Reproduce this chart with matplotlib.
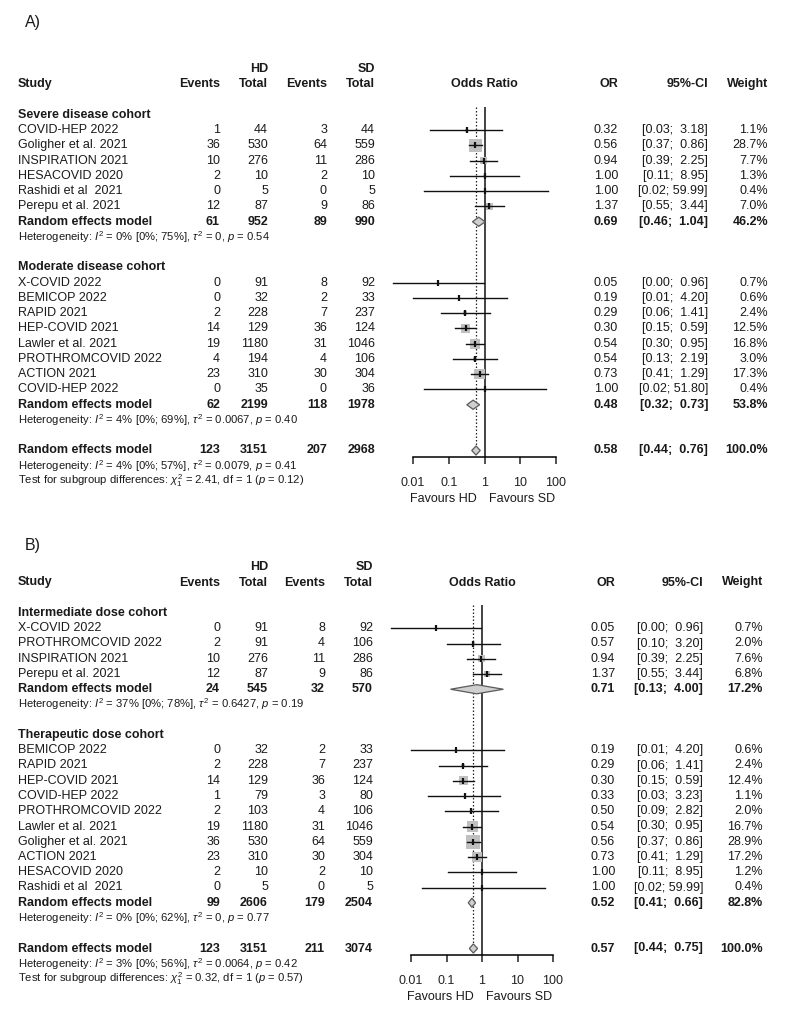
import numpy as np
import matplotlib.pyplot as plt
from matplotlib.patches import Polygon
from matplotlib.transforms import blended_transform_factory

plt.rcParams['font.family'] = ['Liberation Sans', 'DejaVu Sans']
plt.rcParams['mathtext.fontset'] = 'custom'
plt.rcParams['mathtext.rm'] = 'Liberation Sans'
plt.rcParams['mathtext.it'] = 'Liberation Sans:italic'
plt.rcParams['mathtext.bf'] = 'Liberation Sans:bold'

# study, events HD, total HD, events SD, total SD, OR, lower, upper, weight %
severe = [
    ("COVID-HEP 2022", 1, 44, 3, 44, 0.32, 0.03, 3.18, 1.1),
    ("Goligher et al. 2021", 36, 530, 64, 559, 0.56, 0.37, 0.86, 28.7),
    ("INSPIRATION 2021", 10, 276, 11, 286, 0.94, 0.39, 2.25, 7.7),
    ("HESACOVID 2020", 2, 10, 2, 10, 1.00, 0.11, 8.95, 1.3),
    ("Rashidi et al  2021", 0, 5, 0, 5, 1.00, 0.02, 59.99, 0.4),
    ("Perepu et al. 2021", 12, 87, 9, 86, 1.37, 0.55, 3.44, 7.0),
]
severe_pooled = (61, 952, 89, 990, 0.69, 0.46, 1.04, 46.2)
severe_het = ("0", "0", "75", "0", "0.54")

moderate = [
    ("X-COVID 2022", 0, 91, 8, 92, 0.05, 0.0027, 0.96, 0.7),
    ("BEMICOP 2022", 0, 32, 2, 33, 0.19, 0.01, 4.20, 0.6),
    ("RAPID 2021", 2, 228, 7, 237, 0.29, 0.06, 1.41, 2.4),
    ("HEP-COVID 2021", 14, 129, 36, 124, 0.30, 0.15, 0.59, 12.5),
    ("Lawler et al. 2021", 19, 1180, 31, 1046, 0.54, 0.30, 0.95, 16.8),
    ("PROTHROMCOVID 2022", 4, 194, 4, 106, 0.54, 0.13, 2.19, 3.0),
    ("ACTION 2021", 23, 310, 30, 304, 0.73, 0.41, 1.29, 17.3),
    ("COVID-HEP 2022", 0, 35, 0, 36, 1.00, 0.02, 51.80, 0.4),
]
moderate_pooled = (62, 2199, 118, 1978, 0.48, 0.32, 0.73, 53.8)
moderate_het = ("4", "0", "69", "0.0067", "0.40")

a_overall = (123, 3151, 207, 2968, 0.58, 0.44, 0.76, 100.0)
a_overall_het = ("4", "0", "57", "0.0079", "0.41")
a_test = ("2.41", "1", "0.12")

intermediate = [
    ("X-COVID 2022", 0, 91, 8, 92, 0.05, 0.0027, 0.96, 0.7),
    ("PROTHROMCOVID 2022", 2, 91, 4, 106, 0.57, 0.10, 3.20, 2.0),
    ("INSPIRATION 2021", 10, 276, 11, 286, 0.94, 0.39, 2.25, 7.6),
    ("Perepu et al. 2021", 12, 87, 9, 86, 1.37, 0.55, 3.44, 6.8),
]
intermediate_pooled = (24, 545, 32, 570, 0.71, 0.13, 4.00, 17.2)
intermediate_het = ("37", "0", "78", "0.6427", "0.19")

therapeutic = [
    ("BEMICOP 2022", 0, 32, 2, 33, 0.19, 0.01, 4.20, 0.6),
    ("RAPID 2021", 2, 228, 7, 237, 0.29, 0.06, 1.41, 2.4),
    ("HEP-COVID 2021", 14, 129, 36, 124, 0.30, 0.15, 0.59, 12.4),
    ("COVID-HEP 2022", 1, 79, 3, 80, 0.33, 0.03, 3.23, 1.1),
    ("PROTHROMCOVID 2022", 2, 103, 4, 106, 0.50, 0.09, 2.82, 2.0),
    ("Lawler et al. 2021", 19, 1180, 31, 1046, 0.54, 0.30, 0.95, 16.7),
    ("Goligher et al. 2021", 36, 530, 64, 559, 0.56, 0.37, 0.86, 28.9),
    ("ACTION 2021", 23, 310, 30, 304, 0.73, 0.41, 1.29, 17.2),
    ("HESACOVID 2020", 2, 10, 2, 10, 1.00, 0.11, 8.95, 1.2),
    ("Rashidi et al  2021", 0, 5, 0, 5, 1.00, 0.02, 59.99, 0.4),
]
therapeutic_pooled = (99, 2606, 179, 2504, 0.52, 0.41, 0.66, 82.8)
therapeutic_het = ("0", "0", "62", "0", "0.77")

b_overall = (123, 3151, 211, 3074, 0.57, 0.44, 0.75, 100.0)
b_overall_het = ("3", "0", "56", "0.0064", "0.42")
b_test = ("0.32", "1", "0.57")

W, H = 786, 1013
DY = 15.25
TXT = '#1a1a1a'
FS = 9.0
FS_SMALL = 8.1

fig = plt.figure(figsize=(W / 100, H / 100), dpi=100)
bg = fig.add_axes([0, 0, 1, 1])
bg.set_xlim(0, W)
bg.set_ylim(H, 0)
bg.axis('off')


def ci_text(lo, hi):
    s_lo = f"{lo:.2f}"
    s_hi = f"{hi:.2f}"
    pad = " " * (5 - len(s_hi))
    return f"[{s_lo}; {pad}{s_hi}]"


def het_text(h):
    i2, lo, hi, tau, p = h
    return (rf"Heterogeneity: $I^2$ = {i2}% [{lo}%; {hi}%], "
            rf"$\tau^2$ = {tau}, $p$ = {p}")


def draw_panel(label, label_y, y0, x01, x100, cols, groups, overall, ov_het, test):
    row_top, row_bot = -3.5, 22.45
    top_px = y0 + row_top * DY
    bot_px = y0 + row_bot * DY
    fax = fig.add_axes([x01 / W, 1 - bot_px / H, (x100 - x01) / W, (bot_px - top_px) / H])
    fax.set_xscale('log')
    fax.set_xlim(0.01, 100)
    fax.set_ylim(row_bot, row_top)
    fax.patch.set_alpha(0)
    for s in ['left', 'right', 'top']:
        fax.spines[s].set_visible(False)
    fax.spines['bottom'].set_linewidth(1.1)
    fax.set_yticks([])
    fax.set_xticks([0.01, 0.1, 1, 10, 100])
    fax.set_xticklabels(['0.01', '0.1', '1', '10', '100'])
    fax.minorticks_off()
    fax.tick_params(axis='x', direction='out', length=5, width=1.1, pad=9,
                    labelsize=FS, colors='#222222')

    tr = blended_transform_factory(bg.transData, fax.transData)
    ev1, tot1, ev2, tot2, orr, ci, wt = cols

    def t(x, r, s, ha='right', bold=False, size=FS):
        bg.text(x, r, s, transform=tr, ha=ha, va='center', fontsize=size,
                fontweight='bold' if bold else 'normal', color=TXT)

    bg.text(25, label_y, label, fontsize=11.5, va='center', ha='left', color=TXT)

    # column headers
    t(tot1, -3, "HD", bold=True)
    t(tot2, -3, "SD", bold=True)
    t(18, -2, "Study", ha='left', bold=True)
    t(ev1, -2, "Events", bold=True)
    t(tot1, -2, "Total", bold=True)
    t(ev2, -2, "Events", bold=True)
    t(tot2, -2, "Total", bold=True)
    t(bg.transData.inverted().transform(fax.transData.transform((1, 0)))[0], -2,
      "Odds Ratio", ha='center', bold=True)
    t(orr, -2, "OR", bold=True)
    t(ci, -2, "95%-CI", bold=True)
    t(wt, -2, "Weight", bold=True)

    def pooled_row(r, p):
        e1, n1, e2, n2, est, lo, hi, w = p
        t(18, r, "Random effects model", ha='left', bold=True)
        t(ev1, r, str(e1), bold=True)
        t(tot1, r, str(n1), bold=True)
        t(ev2, r, str(e2), bold=True)
        t(tot2, r, str(n2), bold=True)
        t(orr, r, f"{est:.2f}", bold=True)
        t(ci, r, ci_text(lo, hi), bold=True)
        t(wt, r, f"{w:.1f}%", bold=True)
        diam = Polygon([(lo, r), (est, r - 0.3), (hi, r), (est, r + 0.3)],
                       closed=True, facecolor='#cfcfcf', edgecolor='#5a5a5a',
                       linewidth=0.9, zorder=4)
        fax.add_patch(diam)

    r = 0
    for name, rows, pooled, het in groups:
        t(18, r, name, ha='left', bold=True)
        r += 1
        for st, e1, n1, e2, n2, est, lo, hi, w in rows:
            t(18, r, st, ha='left')
            t(ev1, r, str(e1))
            t(tot1, r, str(n1))
            t(ev2, r, str(e2))
            t(tot2, r, str(n2))
            t(orr, r, f"{est:.2f}")
            t(ci, r, ci_text(lo, hi))
            t(wt, r, f"{w:.1f}%")
            fax.scatter([est], [r], marker='s', s=3.3 * w, color='#c0c0c0',
                        edgecolors='none', zorder=2, clip_on=False)
            fax.plot([lo, hi], [r, r], color='#111111', lw=1.0, zorder=3,
                     clip_on=False)
            fax.plot([est], [r], marker='|', ms=5, mew=1.6, color='#111111',
                     zorder=3, clip_on=False)
            r += 1
        pooled_row(r, pooled)
        r += 1
        t(18, r, het_text(het), ha='left', size=FS_SMALL)
        r += 2

    pooled_row(r, overall)
    t(18, r + 1, het_text(ov_het), ha='left', size=FS_SMALL)
    chi, df, p = test
    t(18, r + 2, rf"Test for subgroup differences: $\chi^2_1$ = {chi}, df = {df} ($p$ = {p})",
      ha='left', size=FS_SMALL)

    # reference lines
    fax.vlines(1, -0.5, row_bot, color='#111111', lw=1.1, zorder=1)
    fax.vlines(overall[4], -0.5, r, color='#222222', lw=0.9,
               linestyles=(0, (1.2, 1.6)), zorder=1)

    lab_tr = blended_transform_factory(fax.transData, fax.transAxes)
    fax.text(0.6, -0.104, "Favours HD", transform=lab_tr,
             ha='right', va='center', fontsize=FS, color=TXT)
    fax.text(1.3, -0.104, "Favours SD", transform=lab_tr,
             ha='left', va='center', fontsize=FS, color=TXT)


draw_panel("A)", 22, 115, 413, 556,
           (220, 268, 327, 375, 618, 708, 768),
           [("Severe disease cohort", severe, severe_pooled, severe_het),
            ("Moderate disease cohort", moderate, moderate_pooled, moderate_het)],
           a_overall, a_overall_het, a_test)

draw_panel("B)", 545, 613, 411, 553,
           (220, 268, 325, 373, 615, 703, 763),
           [("Intermediate dose cohort", intermediate, intermediate_pooled, intermediate_het),
            ("Therapeutic dose cohort", therapeutic, therapeutic_pooled, therapeutic_het)],
           b_overall, b_overall_het, b_test)

fig.savefig("out.png", dpi=100)
